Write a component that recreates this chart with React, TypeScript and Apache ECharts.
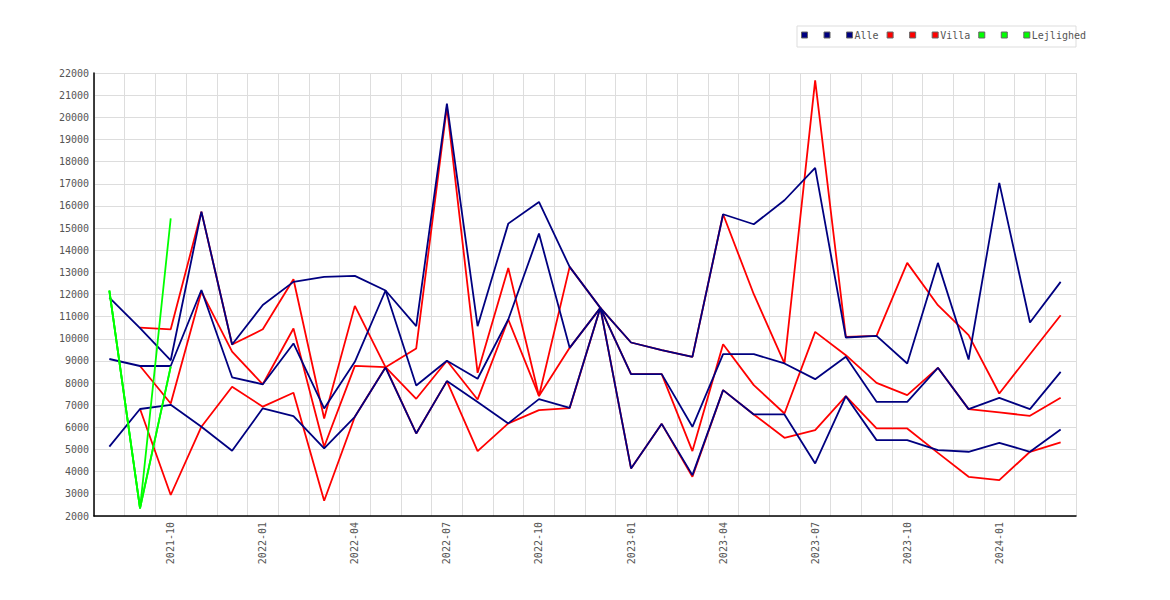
import { useEffect, useRef } from "react";
import * as echarts from "echarts";

const months = [
  "2021-08", "2021-09", "2021-10", "2021-11", "2021-12",
  "2022-01", "2022-02", "2022-03", "2022-04", "2022-05", "2022-06",
  "2022-07", "2022-08", "2022-09", "2022-10", "2022-11", "2022-12",
  "2023-01", "2023-02", "2023-03", "2023-04", "2023-05", "2023-06",
  "2023-07", "2023-08", "2023-09", "2023-10", "2023-11", "2023-12",
  "2024-01", "2024-02", "2024-03",
];

// Alle (navy)
const alleHigh = [11856, 10480, 9030, 15740, 9740, 11526, 12570, 12796, 12840, 12180, 10571, 20616, 10571, 15200, 16180, 13247, 11397, 9833, 9490, 9186, 15623, 15172, 16255, 17714, 10058, 10133, 8885, 13427, 9066, 17037, 10735, 12570];
const alleMid = [9088, 8772, 8772, 12203, 8262, 7946, 9790, 6855, 8960, 12180, 7894, 9010, 8195, 10870, 14750, 9592, 11397, 8404, 8404, 6028, 9306, 9306, 8886, 8178, 9186, 7156, 7156, 8690, 6825, 7336, 6825, 8510];
const alleLow = [5130, 6830, 7020, 6032, 4949, 6862, 6510, 5050, 6480, 8700, 5728, 8090, 7142, 6180, 7276, 6885, 11397, 4147, 6160, 3847, 7682, 6584, 6584, 4373, 7411, 5426, 5426, 4975, 4900, 5306, 4900, 5907];

// Villa (red)
const villaHigh = [null, 10501, 10429, 15740, 9740, 10429, 12690, 6404, 11487, 8720, 9563, 20466, 8466, 13200, 7420, 13247, 11397, 9833, 9490, 9186, 15623, 12013, 8886, 21669, 10088, 10133, 13427, 11517, 10163, 7532, 9300, 11066];
const villaMid = [null, 8772, 7080, 12128, 9418, 7946, 10465, 5126, 8780, 8720, 7292, 9010, 7262, 10870, 7420, 9592, 11397, 8404, 8404, 4930, 9757, 7908, 6629, 10314, 9261, 8013, 7456, 8690, 6825, 6674, 6524, 7336];
const villaLow = [null, 6830, 2948, 6032, 7838, 6935, 7562, 2690, 6480, 8720, 5728, 8090, 4931, 6180, 6780, 6870, 11397, 4147, 6160, 3771, 7682, 6584, 5531, 5877, 7411, 5952, 5952, 4850, 3771, 3620, 4900, 5321];

// Lejlighed (green)
const lejlHigh = [12172, 2347, 15440];
const lejlMid = [12172, 2347, 8742];
const lejlLow = [12172, 2347, 8742];

const FONT = "DejaVu Sans Mono";

export default function App() {
  const ref = useRef<HTMLDivElement>(null);

  useEffect(() => {
    if (!ref.current) return;
    const chart = echarts.init(ref.current, undefined, { renderer: "svg" });

    const mk = (name: string, data: (number | null)[], color: string, z: number) => ({
      name,
      type: "line",
      data,
      symbol: "none",
      z,
      connectNulls: false,
      itemStyle: { color },
      lineStyle: { color, width: 1.8 },
    });

    chart.setOption({
      animation: false,
      backgroundColor: "#ffffff",
      graphic: [
        {
          type: "rect",
          shape: { x: 797, y: 26, width: 279, height: 21 },
          style: { fill: "none", stroke: "#dddddd", lineWidth: 1 },
          silent: true,
        },
      ],
      legend: {
        left: 801,
        top: 30,
        padding: 0,
        itemWidth: 6,
        itemHeight: 6,
        itemGap: 8,
        icon: "rect",
        itemStyle: { borderColor: "#666666", borderWidth: 1 },
        textStyle: { fontFamily: FONT, fontSize: 10, color: "#555555", padding: [0, 0, 0, -3] },
        data: ["Alle 1", "Alle 2", "Alle", "Villa 1", "Villa 2", "Villa", "Lejlighed 1", "Lejlighed 2", "Lejlighed"],
        formatter: (n: string) => (/\d$/.test(n) ? " " : n),
      },
      grid: { left: 94, right: 94, top: 73, bottom: 84 },
      xAxis: {
        type: "category",
        data: months,
        boundaryGap: true,
        axisLine: { show: true, lineStyle: { color: "#000000", width: 1.5 } },
        axisTick: { show: false, interval: 0 },
        splitLine: { show: true, interval: 0, lineStyle: { color: "#dddddd", width: 1 } },
        axisLabel: {
          rotate: 90,
          margin: 6,
          interval: (i: number) => i % 3 === 2,
          fontFamily: FONT,
          fontSize: 10,
          color: "#555555",
        },
      },
      yAxis: {
        type: "value",
        min: 2000,
        max: 22000,
        interval: 1000,
        axisLine: { show: true, lineStyle: { color: "#000000", width: 1.5 } },
        axisTick: { show: false },
        splitLine: { show: true, lineStyle: { color: "#dddddd", width: 1 } },
        axisLabel: {
          margin: 5,
          fontFamily: FONT,
          fontSize: 10,
          color: "#555555",
          formatter: (v: number) => String(v),
        },
      },
      series: [
        mk("Villa 1", villaHigh, "#ff0000", 2),
        mk("Villa 2", villaMid, "#ff0000", 2),
        mk("Villa", villaLow, "#ff0000", 2),
        mk("Alle 1", alleHigh, "#000080", 3),
        mk("Alle 2", alleMid, "#000080", 3),
        mk("Alle", alleLow, "#000080", 3),
        mk("Lejlighed 1", lejlHigh, "#00ff00", 4),
        mk("Lejlighed 2", lejlMid, "#00ff00", 4),
        mk("Lejlighed", lejlLow, "#00ff00", 4),
      ],
    });

    return () => chart.dispose();
  }, []);

  return <div ref={ref} style={{ position: "absolute", left: 0, top: 0, width: 1170, height: 600 }} />;
}
